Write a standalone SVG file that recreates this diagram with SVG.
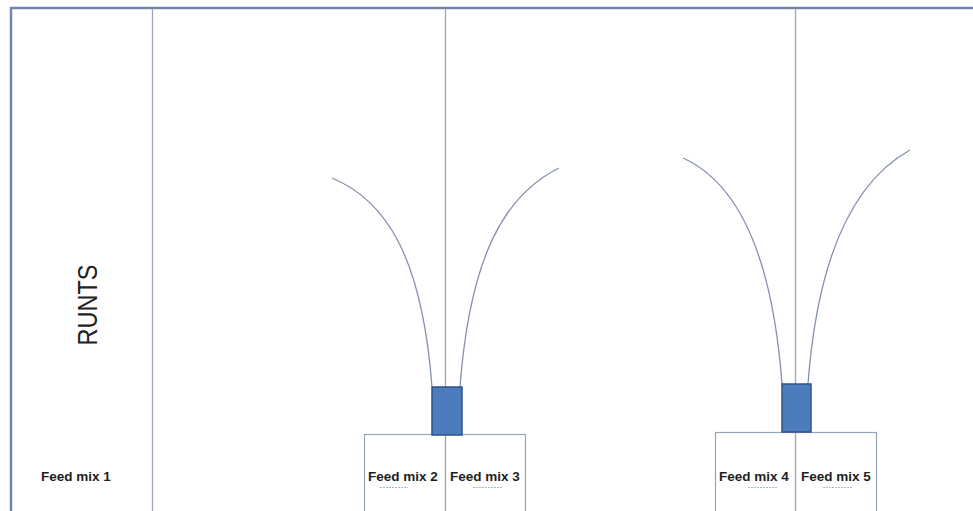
<svg xmlns="http://www.w3.org/2000/svg" width="973" height="511" viewBox="0 0 973 511">
<defs>
<style>
.frame{fill:none;stroke:#6f89ab;stroke-width:2.5}
.div{fill:none;stroke:#9aa6bb;stroke-width:1.3}
.box{fill:none;stroke:#97a3ba;stroke-width:1.2}
.curve{fill:none;stroke:#8491ad;stroke-width:1.3}
.feeder{fill:#4d7cbe;stroke:#2f5287;stroke-width:1.5}
.lbl{font-family:"Liberation Sans",Arial,sans-serif;font-size:13.5px;font-weight:bold;fill:#1e1e1e}
.sq{fill:none;stroke:#a9b8d2;stroke-width:1;stroke-dasharray:2 1}
</style>
</defs>
<rect width="973" height="511" fill="#ffffff"/>
<rect class="frame" x="11" y="8" width="1000" height="600"/>
<g id="connectors">
<line class="div" x1="152.5" y1="9" x2="152.5" y2="511"/>
<line class="div" x1="445.5" y1="9" x2="445.5" y2="511"/>
<line class="div" x1="795.5" y1="9" x2="795.5" y2="511"/>
<path class="curve" d="M332,178 C385,200 422,255 432,387"/>
<path class="curve" d="M559,168 C505,195 470,255 460,387"/>
<path class="curve" d="M683,158 C736,182 772,250 782,384"/>
<path class="curve" d="M910,150 C856,180 818,250 808,384"/>
</g>
<g id="runts">
<text transform="translate(97,305) rotate(-90)" text-anchor="middle" font-family="'Liberation Sans',Arial,sans-serif" font-size="27" fill="#222" textLength="81" lengthAdjust="spacingAndGlyphs">RUNTS</text>
</g>
<g id="feed1">
<text class="lbl" x="41" y="481">Feed mix 1</text>
</g>
<g id="pen1">
<rect class="box" x="364.5" y="434.5" width="161" height="90"/>
<rect class="feeder" x="432" y="387" width="30" height="48"/>
<text class="lbl" x="368" y="481">Feed mix 2</text>
<text class="lbl" x="450" y="481">Feed mix 3</text>
<line class="sq" x1="380" y1="487.5" x2="408" y2="487.5"/>
<line class="sq" x1="473" y1="487.5" x2="503" y2="487.5"/>
</g>
<g id="pen2">
<rect class="box" x="715.5" y="432.5" width="161" height="90"/>
<rect class="feeder" x="782" y="384" width="29" height="48"/>
<text class="lbl" x="719" y="481">Feed mix 4</text>
<text class="lbl" x="801" y="481">Feed mix 5</text>
<line class="sq" x1="748" y1="487.5" x2="777" y2="487.5"/>
<line class="sq" x1="823" y1="487.5" x2="853" y2="487.5"/>
</g>
</svg>
